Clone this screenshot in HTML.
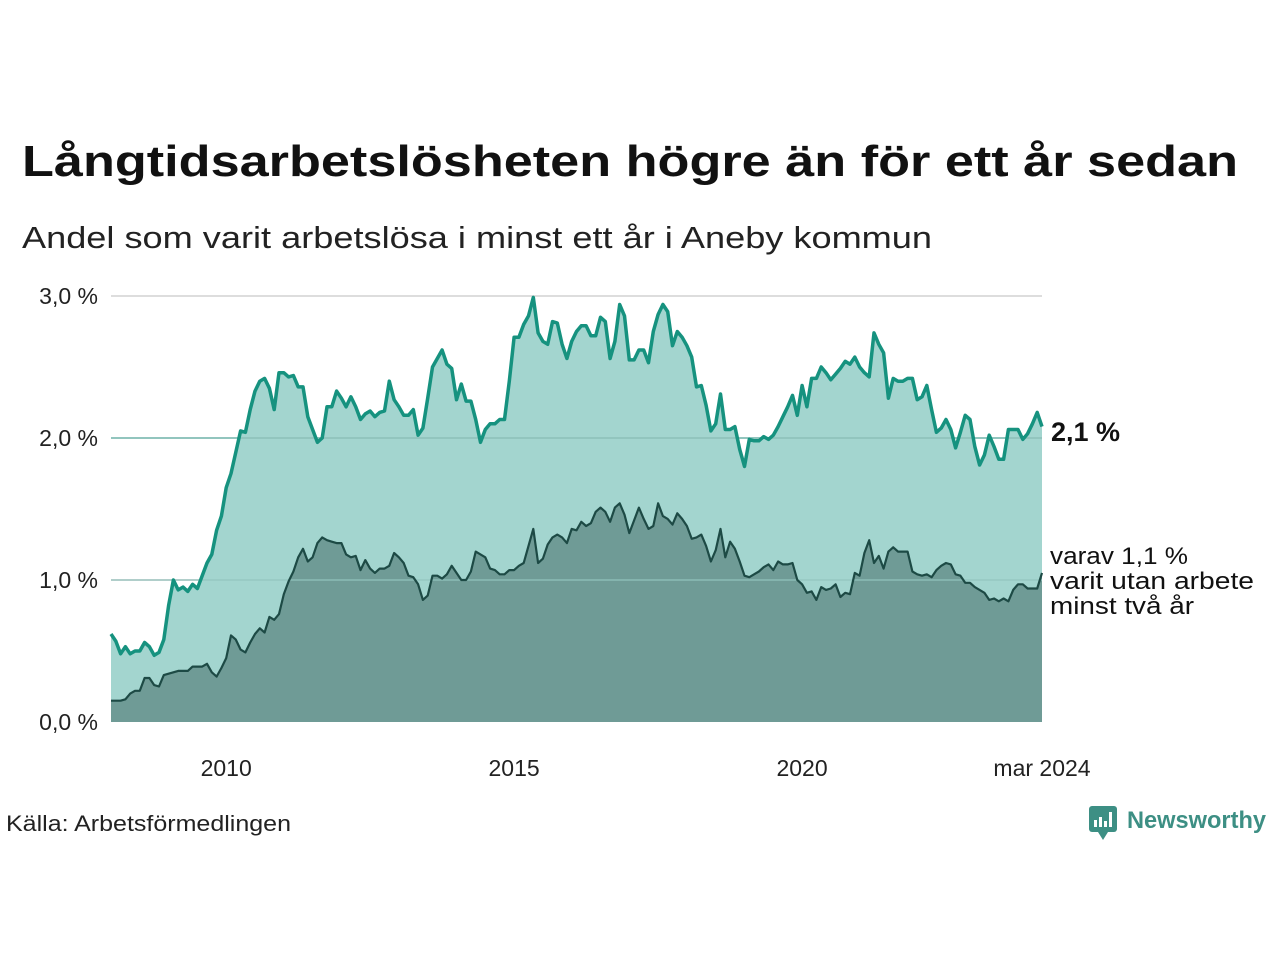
<!DOCTYPE html>
<html><head><meta charset="utf-8"><style>
html,body{margin:0;padding:0;background:#fff;}
svg{display:block;font-family:"Liberation Sans",sans-serif;}
</style></head><body>
<svg id="chart" width="1280" height="960" viewBox="0 0 1280 960">
<text x="22" y="176" font-size="44" font-weight="bold" fill="#111" textLength="1216" lengthAdjust="spacingAndGlyphs">Långtidsarbetslösheten högre än för ett år sedan</text>
<text x="22" y="248" font-size="31" fill="#222" textLength="910" lengthAdjust="spacingAndGlyphs">Andel som varit arbetslösa i minst ett år i Aneby kommun</text>
<g id="grid"></g>
<g id="areas"></g>
<g id="yticks"></g>
<g id="xticks"></g>
<text x="1051" y="441" font-size="27" font-weight="bold" fill="#111">2,1 %</text>
<text font-size="24" fill="#111"><tspan x="1050" y="564" textLength="138" lengthAdjust="spacingAndGlyphs">varav 1,1 %</tspan><tspan x="1050" y="589" textLength="204" lengthAdjust="spacingAndGlyphs">varit utan arbete</tspan><tspan x="1050" y="614" textLength="144" lengthAdjust="spacingAndGlyphs">minst två år</tspan></text>
<text x="6" y="831" font-size="22" fill="#222" textLength="285" lengthAdjust="spacingAndGlyphs">Källa: Arbetsförmedlingen</text>
<g>
<rect x="1089" y="806" width="28" height="26" rx="3" fill="#3d8f84"/>
<path d="M1098 832 L1103 840 L1108 832 Z" fill="#3d8f84"/>
<rect x="1094" y="820" width="3" height="7" fill="#fff"/><rect x="1099" y="817" width="3" height="10" fill="#fff"/><rect x="1104" y="821" width="3" height="6" fill="#fff"/><rect x="1109" y="812" width="3" height="15" fill="#fff"/>
<text x="1127" y="828" font-size="24" font-weight="bold" fill="#3d8f84" textLength="139" lengthAdjust="spacingAndGlyphs">Newsworthy</text>
</g>
</svg>
<script>
const total = [0.62,0.57,0.48,0.53,0.48,0.50,0.50,0.56,0.53,0.47,0.49,0.58,
0.82,1.00,0.93,0.95,0.92,0.97,0.94,1.03,1.12,1.18,1.35,1.45,
1.65,1.75,1.90,2.05,2.04,2.20,2.33,2.40,2.42,2.35,2.20,2.46,
2.46,2.43,2.44,2.36,2.36,2.15,2.06,1.97,2.00,2.22,2.22,2.33,
2.28,2.22,2.29,2.22,2.13,2.17,2.19,2.15,2.18,2.19,2.40,2.27,
2.22,2.16,2.16,2.20,2.02,2.07,2.28,2.50,2.56,2.62,2.52,2.49,
2.27,2.38,2.26,2.26,2.13,1.97,2.06,2.10,2.10,2.13,2.13,2.40,
2.71,2.71,2.80,2.86,2.99,2.74,2.68,2.66,2.82,2.81,2.66,2.56,
2.68,2.75,2.79,2.79,2.72,2.72,2.85,2.82,2.56,2.68,2.94,2.86,
2.55,2.55,2.62,2.62,2.53,2.75,2.87,2.94,2.89,2.65,2.75,2.71,
2.65,2.57,2.36,2.37,2.23,2.05,2.10,2.31,2.06,2.06,2.08,1.92,
1.80,1.99,1.98,1.98,2.01,1.99,2.02,2.08,2.15,2.22,2.30,2.16,
2.37,2.22,2.42,2.42,2.50,2.46,2.41,2.45,2.49,2.54,2.52,2.57,
2.50,2.46,2.43,2.74,2.66,2.60,2.28,2.42,2.40,2.40,2.42,2.42,
2.27,2.29,2.37,2.20,2.04,2.07,2.13,2.06,1.93,2.04,2.16,2.13,
1.94,1.81,1.88,2.02,1.94,1.85,1.85,2.06,2.06,2.06,1.99,2.03,
2.10,2.18,2.08];
const twoYear = [0.15,0.15,0.15,0.16,0.20,0.22,0.22,0.31,0.31,0.26,0.25,0.33,
0.34,0.35,0.36,0.36,0.36,0.39,0.39,0.39,0.41,0.35,0.32,0.38,
0.45,0.61,0.58,0.51,0.49,0.56,0.62,0.66,0.63,0.74,0.72,0.76,
0.90,0.99,1.06,1.16,1.22,1.13,1.16,1.26,1.30,1.28,1.27,1.26,
1.26,1.18,1.16,1.17,1.07,1.14,1.08,1.05,1.08,1.08,1.10,1.19,
1.16,1.12,1.03,1.02,0.97,0.86,0.89,1.03,1.03,1.01,1.04,1.10,
1.05,1.00,1.00,1.06,1.20,1.18,1.16,1.08,1.07,1.04,1.04,1.07,
1.07,1.10,1.12,1.24,1.36,1.12,1.15,1.25,1.30,1.32,1.30,1.26,
1.36,1.35,1.41,1.38,1.40,1.48,1.51,1.48,1.41,1.51,1.54,1.46,
1.33,1.42,1.51,1.43,1.36,1.38,1.54,1.45,1.43,1.39,1.47,1.43,
1.38,1.29,1.30,1.32,1.24,1.13,1.21,1.36,1.16,1.27,1.22,1.13,
1.03,1.02,1.04,1.06,1.09,1.11,1.07,1.13,1.11,1.11,1.12,1.00,
0.97,0.91,0.92,0.86,0.95,0.93,0.94,0.97,0.88,0.91,0.90,1.05,
1.03,1.19,1.28,1.12,1.17,1.08,1.20,1.23,1.20,1.20,1.20,1.06,
1.04,1.03,1.04,1.02,1.07,1.10,1.12,1.11,1.04,1.03,0.98,0.98,
0.95,0.93,0.91,0.86,0.87,0.85,0.87,0.85,0.93,0.97,0.97,0.94,
0.94,0.94,1.05];
const yTickValues = [0,1,2,3];
const yTickLabels = ["0,0 %","1,0 %","2,0 %","3,0 %"];
const xTickYears = [2010,2015,2020,2024.167];
const xTickLabels = ["2010","2015","2020","mar 2024"];

const NS="http://www.w3.org/2000/svg";
const X0=111, X1=1042, START=2008, END=2024+2/12;
const xYear=t=>X0+(t-START)/(END-START)*(X1-X0);
const xIdx=i=>xYear(START+i/12);
const y=v=>722-v*142;
function mk(tag,attrs,parent){const e=document.createElementNS(NS,tag);for(const k in attrs)e.setAttribute(k,attrs[k]);parent.appendChild(e);return e;}
const grid=document.getElementById('grid'),areas=document.getElementById('areas'),yt=document.getElementById('yticks'),xt=document.getElementById('xticks');
yTickValues.forEach((v,i)=>{
  if(v>0){const l=mk('line',{x1:X0,x2:X1,y1:y(v),y2:y(v),stroke:'#dddddd','stroke-width':2},grid);
  
  }
  const t=mk('text',{x:98,y:y(v)+8,'text-anchor':'end','font-size':23,fill:'#222'},yt);
  t.textContent=yTickLabels[i];
  
  
});
xTickYears.forEach((yr,i)=>{
  const t=mk('text',{x:xYear(yr),y:776,'text-anchor':'middle','font-size':23,fill:'#222'},xt);
  t.textContent=xTickLabels[i];
  
  
});
function linePts(a){return a.map((v,i)=>xIdx(i).toFixed(1)+','+y(v).toFixed(1)).join(' ');}
function areaPath(a){return 'M'+xIdx(0)+','+y(0)+' L'+linePts(a).split(' ').join(' L')+' L'+xIdx(a.length-1)+','+y(0)+' Z';}
const a1=mk('path',{d:areaPath(total),fill:'#a3d5cf'},areas);


const g2=mk('line',{x1:X0,x2:X1,y1:y(2),y2:y(2),stroke:'#92c5be','stroke-width':2},areas);


const a2=mk('path',{d:areaPath(twoYear),fill:'#6f9b96'},areas);


const g1=mk('line',{x1:X0,x2:X1,y1:y(1),y2:y(1),stroke:'#92c5be','stroke-width':2,'stroke-opacity':0.6},areas);


const l1=mk('polyline',{points:linePts(total),fill:'none',stroke:'#16927f','stroke-width':3.5,'stroke-linejoin':'round'},areas);


const l2=mk('polyline',{points:linePts(twoYear),fill:'none',stroke:'#1d4a45','stroke-width':2.2,'stroke-linejoin':'round'},areas);


</script>
</body></html>
